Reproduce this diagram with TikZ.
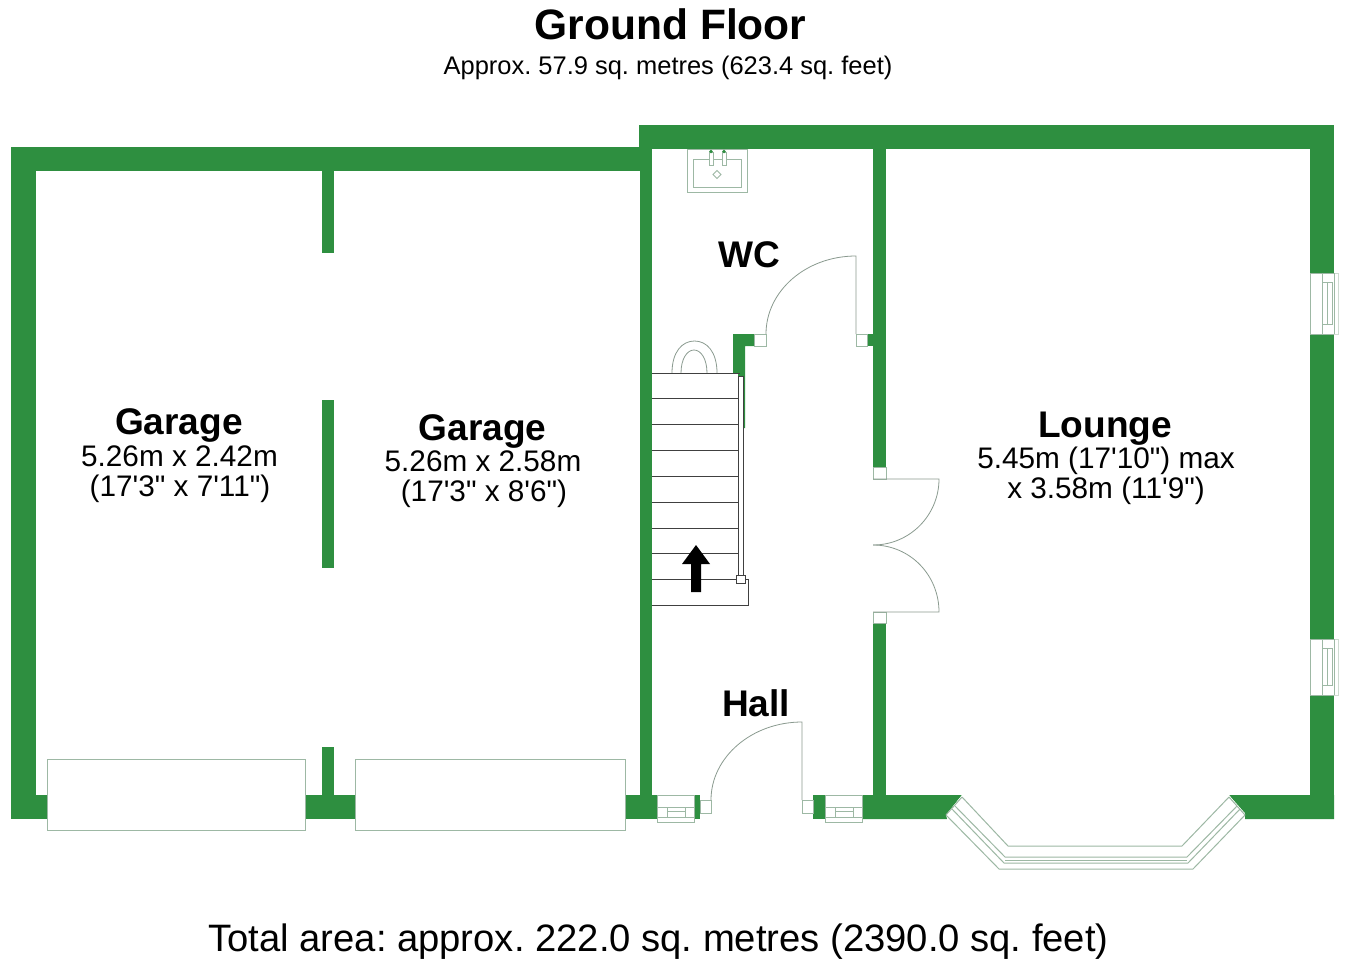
\documentclass[tikz,border=0pt]{standalone}
\usepackage{fontspec}
\setmainfont[Ligatures=TeXOff]{Liberation Sans}
\definecolor{wallgreen}{HTML}{2E8F40}
\definecolor{fitline}{HTML}{9DB8A4}
\definecolor{doorline}{HTML}{8A9A8F}
\tikzset{
  wall/.style={fill=wallgreen,draw=none},
  fitting/.style={draw=fitline,fill=white,line width=0.75pt},
  doorleaf/.style={draw=doorline,line width=0.6pt},
  stairline/.style={draw=black!75,line width=0.7pt},
  titletext/.style={anchor=base,font=\bfseries\fontsize{31.9}{36}\selectfont},
  subtext/.style={anchor=base,font=\fontsize{19.1}{23}\selectfont},
  roomname/.style={anchor=base,font=\bfseries\fontsize{27.8}{32}\selectfont},
  roomsize/.style={anchor=base,font=\fontsize{22.3}{26}\selectfont},
  totaltext/.style={anchor=base,font=\fontsize{28.65}{33}\selectfont},
}
\frenchspacing
\begin{document}
\begin{tikzpicture}[x=0.75pt,y=-0.75pt]
\useasboundingbox (0,0) rectangle (1353,964);
% walls
\fill[wall] (11,147) rectangle (640,171);
\fill[wall] (11,147) rectangle (36,819);
\fill[wall] (11,795) rectangle (657,819);
\fill[wall] (639,125) rectangle (1334,149);
\fill[wall] (640,125) rectangle (652,819);
\fill[wall] (1310,125) rectangle (1334,819);
\fill[wall] (873,149) rectangle (886,467);
\fill[wall] (873,623) rectangle (886,795);
\fill[wall] (693,795) rectangle (700,819);
\fill[wall] (813,795) rectangle (825,819);
\fill[wall] (862,795) -- (962,795) -- (946,815) -- (947,819) -- (862,819) -- cycle;
\fill[wall] (1229,795) -- (1334,795) -- (1334,819) -- (1245,819) -- (1245,813) -- cycle;
\fill[wall] (322,171) rectangle (334,253);
\fill[wall] (322,400) rectangle (334,568);
\fill[wall] (322,747) rectangle (334,795);
\fill[wall] (733,334) -- (754,334) -- (754,346) -- (745,346) -- (745,428) -- (733,428) -- cycle;
\fill[wall] (867,334) rectangle (873,346);
% garage doors
\draw[fitting] (47,759) rectangle (305,830);
\draw[fitting] (355,759) rectangle (625,830);
% door jambs
\draw[fitting] (754,334) rectangle (766,346);
\draw[fitting] (856,334) rectangle (867,346);
\draw[fitting] (873,467) rectangle (886,479);
\draw[fitting] (873,612) rectangle (886,623);
\draw[fitting] (700,800) rectangle (711,813);
\draw[fitting] (802,800) rectangle (813,813);
% doors
\draw[doorleaf] (766,334) .. controls (766,291) and (806,256) .. (856,256) -- (856,334);
\draw[doorleaf] (711,800) .. controls (711,757) and (752,722) .. (802,722) -- (802,800);
\draw[doorleaf] (873,479) -- (939,479) .. controls (939,515) and (910,545) .. (873,545);
\draw[doorleaf] (873,612) -- (939,612) .. controls (939,575) and (910,545) .. (873,545);
% front windows
\foreach \wx in {657,825} {
  \draw[fitting] (\wx,795) rectangle ++(37,27);
  \draw[fitting] (\wx,807) -- ++(37,0);
  \draw[fitting] (\wx,817) -- ++(37,0);
  \draw[fitting] (\wx+10,807) rectangle ++(18,10);
  \draw[fitting] (\wx+10,811.5) -- ++(18,0);
}
% side windows
\foreach \wy/\wh in {273/61,639/56} {
  \fill[white] (1310,\wy) rectangle ++(28,\wh);
  \draw[fitting,fill=none] (1334,\wy) -- ++(-24,0) -- ++(0,\wh) -- ++(24,0);
  \draw[draw=fitline!50,line width=0.75pt] (1334,\wy) -- ++(4,0) -- ++(0,\wh) -- ++(-4,0);
  \draw[fitting,fill=none] (1322,\wy) -- ++(0,\wh);
  \draw[fitting,fill=none] (1334,\wy) -- ++(0,\wh);
  \draw[fitting] (1322,\wy+9) rectangle (1332,\wy+\wh-10);
  \draw[fitting,fill=none] (1327,\wy+9) -- (1327,\wy+\wh-10);
}
% bay window
\fill[white] (962,795) -- (946,815) -- (999,869) -- (1193,869) -- (1245,815) -- (1229,795) -- (1182,846) -- (1008,846) -- cycle;
\draw[fitting,fill=none] (962,797) -- (1008,846) -- (1182,846) -- (1229,797);
\draw[fitting,fill=none] (946,815) -- (999,869) -- (1193,869) -- (1245,815);
\draw[fitting,fill=none] (952,809) -- (1004,863) -- (1188,863) -- (1240,809);
\draw[fitting,fill=none] (955,806) -- (1005,857) -- (1187,857) -- (1237,806);
\draw[fitting,fill=none] (1005,860) -- (1187,860);
\draw[fitting,fill=none] (946,815) -- (962,797);
\draw[fitting,fill=none] (1245,815) -- (1229,797);
% basin
\draw[fitting] (687,149) rectangle (747,192);
\draw[fitting] (693,159) rectangle (741,187);
\draw[fitting] (709,152) rectangle (713,165);
\draw[fitting] (722,152) rectangle (726,165);
\fill[wallgreen] (711,151.5) circle (1.8);
\fill[wallgreen] (724,151.5) circle (1.8);
\draw[fitting] (717,170.5) -- (721,174.5) -- (717,178.5) -- (713,174.5) -- cycle;
% landing arch
\draw[doorleaf] (672,373) .. controls (672,352) and (682,341) .. (694.5,341) .. controls (707,341) and (717,352) .. (717,373);
\draw[doorleaf] (681,373) .. controls (681,359) and (687,350) .. (694,350) .. controls (701,350) and (707,359) .. (707,373);
% stairs
\fill[white] (652,373) rectangle (738,579);
\fill[white] (652,579) rectangle (748,605);
\draw[stairline] (652,373) -- (740,373);
\foreach \ty in {398.5,424.5,450,476.5,502,528,553,579} {
  \draw[stairline] (652,\ty) -- (738,\ty);
}
\draw[stairline] (738,579) -- (748,579) -- (748,605) -- (652,605);
\draw[stairline,fill=white] (738,376) rectangle (743.5,576);
\draw[stairline,fill=white] (736,575) rectangle (745,583);
\fill[black] (696,545) -- (710,564) -- (701,564) -- (701,592) -- (691,592) -- (691,564) -- (682,564) -- cycle;
% labels
\node[titletext] (title) at (670.5,39) {Ground Floor};
\node[subtext] (approx) at (668,74) {Approx. 57.9 sq. metres (623.4 sq. feet)};
\node[roomname] (garageone) at (179,434) {Garage};
\node[roomsize] (garageonem) at (179.5,466.5) {5.26m x 2.42m};
\node[roomsize] (garageoneft) at (180,496.5) {(17'3" x 7'11")};
\node[roomname] (garagetwo) at (482.5,440) {Garage};
\node[roomsize] (garagetwom) at (483,471.5) {5.26m x 2.58m};
\node[roomsize] (garagetwoft) at (484,501.5) {(17'3" x 8'6")};
\node[roomname] (lounge) at (1105,437) {Lounge};
\node[roomsize] (loungem) at (1106,468.5) {5.45m (17'10") max};
\node[roomsize] (loungeft) at (1106,498.5) {x 3.58m (11'9")};
\node[roomname] (wc) at (749,267) {WC};
\node[roomname] (hall) at (756,716) {Hall};
\node[totaltext] (total) at (658.5,951) {Total area: approx. 222.0 sq. metres (2390.0 sq. feet)};
\end{tikzpicture}
\end{document}
